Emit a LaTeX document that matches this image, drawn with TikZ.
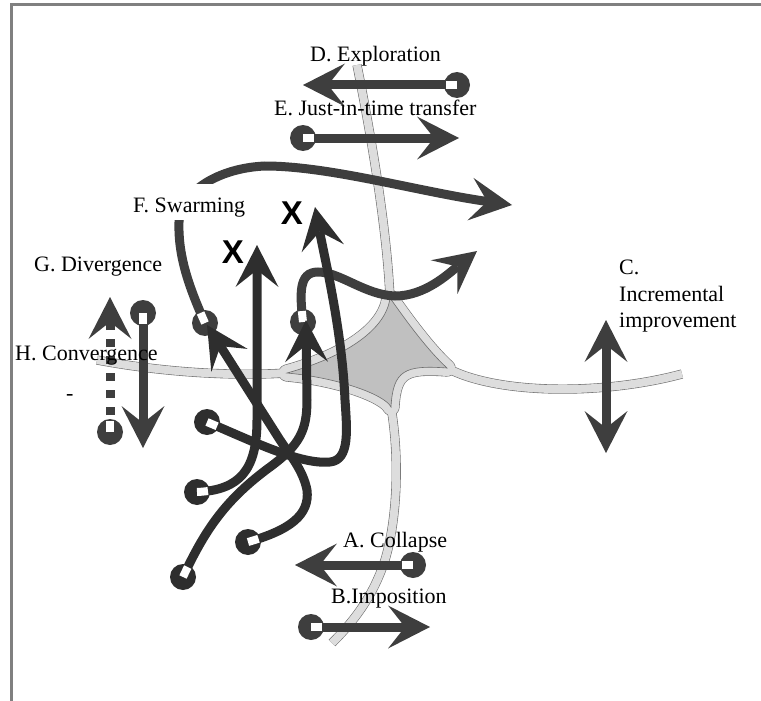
\documentclass[tikz,border=0pt]{standalone}
\usepackage{fontspec}
\setmainfont{Liberation Serif}
\newfontfamily\xfont{Liberation Sans}
\usetikzlibrary{arrows.meta}
\definecolor{linedark}{RGB}{46,46,46}
\definecolor{linemid}{RGB}{62,62,62}
\definecolor{framegray}{RGB}{128,128,128}
\definecolor{roadfill}{RGB}{221,221,221}
\definecolor{roadedge}{RGB}{110,110,110}
\definecolor{starfill}{RGB}{192,192,192}
% road centre lines and the junction
\def\toproad{(357,65) .. controls (372,140) and (387,230) .. (390,298)}
\def\leftroad{(97,360) .. controls (150,370) and (220,377) .. (287,373)}
\def\rightroad{(447,368) .. controls (495,394) and (600,396) .. (682,374)}
\def\bottomroad{(391,407) .. controls (400,460) and (397,520) .. (385,560) .. controls (372,600) and (350,625) .. (332,643)}
\def\junction{(390,298) .. controls (386,330) and (345,357) .. (287,373)
  .. controls (340,378) and (385,395) .. (391,407) .. controls (393,370) and (405,365) .. (447,368)
  .. controls (425,348) and (400,312) .. cycle}
\begin{document}
\begin{tikzpicture}[x=1pt,y=-1pt,
  >={Stealth[length=42pt,width=43pt,inset=17pt,line width=0pt]},
  txt/.style={font=\fontsize{22}{26.5}\selectfont, inner sep=0pt, anchor=base west},
  flow/.style={line width=9pt, draw=linemid, ->, postaction={draw=white, line width=8pt, dash pattern=on 11pt off 3000pt, arrows=-}},
  swarm/.style={flow, draw=linedark},
  startdot/.style={circle, fill=linemid, minimum size=26pt, inner sep=0pt},
  darkdot/.style={startdot, fill=linedark},
  xmark/.style={font=\xfont\bfseries\fontsize{33}{33}\selectfont, inner sep=0pt}]
\useasboundingbox (0,0) rectangle (761,701);
\draw[framegray, line width=3pt] (761,5) -- (11.5,5) -- (11.5,701);

% roads and junction
\draw[roadedge, line width=9.2pt] \toproad;
\draw[roadedge, line width=9.2pt] \leftroad;
\draw[roadedge, line width=9.2pt] \rightroad;
\draw[roadedge, line width=9.2pt] \bottomroad;
\draw[roadedge, line width=17.2pt, line join=round] \junction;
\draw[roadfill, line width=8pt] \toproad;
\draw[roadfill, line width=8pt] \leftroad;
\draw[roadfill, line width=8pt] \rightroad;
\draw[roadfill, line width=8pt] \bottomroad;
\draw[roadfill, line width=16pt, line join=round] \junction;
\draw[roadedge, line width=0.6pt, fill=starfill] \junction;

% single moves
\node[startdot] (astart) at (413,565) {};
\coordinate (atip) at (295,565);
\draw[flow] (astart.center) -- (atip);
\node[startdot] (bstart) at (311,627) {};
\coordinate (btip) at (430,627);
\draw[flow] (bstart.center) -- (btip);
\coordinate (ctop) at (606,320);
\coordinate (cbot) at (606,453);
\draw[line width=9pt, draw=linemid, <->] (cbot) -- (ctop);
\node[startdot] (dstart) at (457,85) {};
\coordinate (dtip) at (303,85);
\draw[flow] (dstart.center) -- (dtip);
\node[startdot] (estart) at (303,138) {};
\coordinate (etip) at (459,138);
\draw[flow] (estart.center) -- (etip);
\node[startdot] (gstart) at (143,313) {};
\coordinate (gtip) at (143,448);
\draw[flow] (gstart.center) -- (gtip);
\node[startdot] (hstart) at (110,432) {};
\coordinate (htip) at (110,297);
\draw[flow, dash pattern=on 8pt off 9pt] (hstart.center) -- (htip);

% swarming
\node[startdot] (mleft) at (205,323) {};
\node[startdot] (mright) at (303,322) {};
\coordinate (sltip) at (512,205);
\coordinate (srtip) at (477,251);
\draw[flow] (mleft.center) .. controls (188,285) and (178,255) .. (179,222)
  .. controls (180,192) and (218,168) .. (265,166) .. controls (330,166) and (420,192) .. (sltip);
\draw[flow] (mright.center) .. controls (300,295) and (298,272) .. (318,272)
  .. controls (340,272) and (365,295) .. (395,296) .. controls (425,296) and (448,274) .. (srtip);
\node[txt, fill=white, text height=28pt, text depth=8pt] (fswarm) at (133,212) {F. Swarming};

\node[darkdot] (sa) at (207,422) {};
\node[darkdot] (sb) at (197,492) {};
\node[darkdot] (sc) at (248,542) {};
\node[darkdot] (sd) at (183,577) {};
\coordinate (tatip) at (315,207);
\coordinate (tbtip) at (257,245);
\coordinate (tctip) at (207,325);
\coordinate (tdtip) at (306,320);
\draw[swarm] (sa.center) .. controls (250,440) and (300,465) .. (330,462)
  .. controls (350,460) and (347,430) .. (345,400) .. controls (342,330) and (325,260) .. (tatip);
\draw[swarm] (sb.center) .. controls (240,490) and (257,470) .. (257,420) -- (tbtip);
\draw[swarm] (sc.center) .. controls (290,530) and (310,515) .. (307,490)
  .. controls (303,470) and (290,455) .. (280,440) -- (tctip);
\draw[swarm] (sd.center) .. controls (205,530) and (225,500) .. (270,467)
  .. controls (300,445) and (307,430) .. (307,400) -- (tdtip);
\node[xmark] (xleft) at (233,252) {X};
\node[xmark] (xright) at (292,213) {X};

% labels
\node[txt] (dlabel) at (310,62) {D. Exploration};
\node[txt] (elabel) at (274,116) {E. Just-in-time transfer};
\node[txt] (glabel) at (34,271) {G. Divergence};
\node[txt] (hlabel) at (15,360) {H. Convergence};
\node[txt] (hdash) at (66,400) {-};
\node[txt, anchor=north west, align=left] (clabel) at (619,260) {C.\\Incremental\\improvement};
\node[txt] (alabel) at (343,547) {A. Collapse};
\node[txt] (blabel) at (331,603) {B.Imposition};
\end{tikzpicture}
\end{document}
